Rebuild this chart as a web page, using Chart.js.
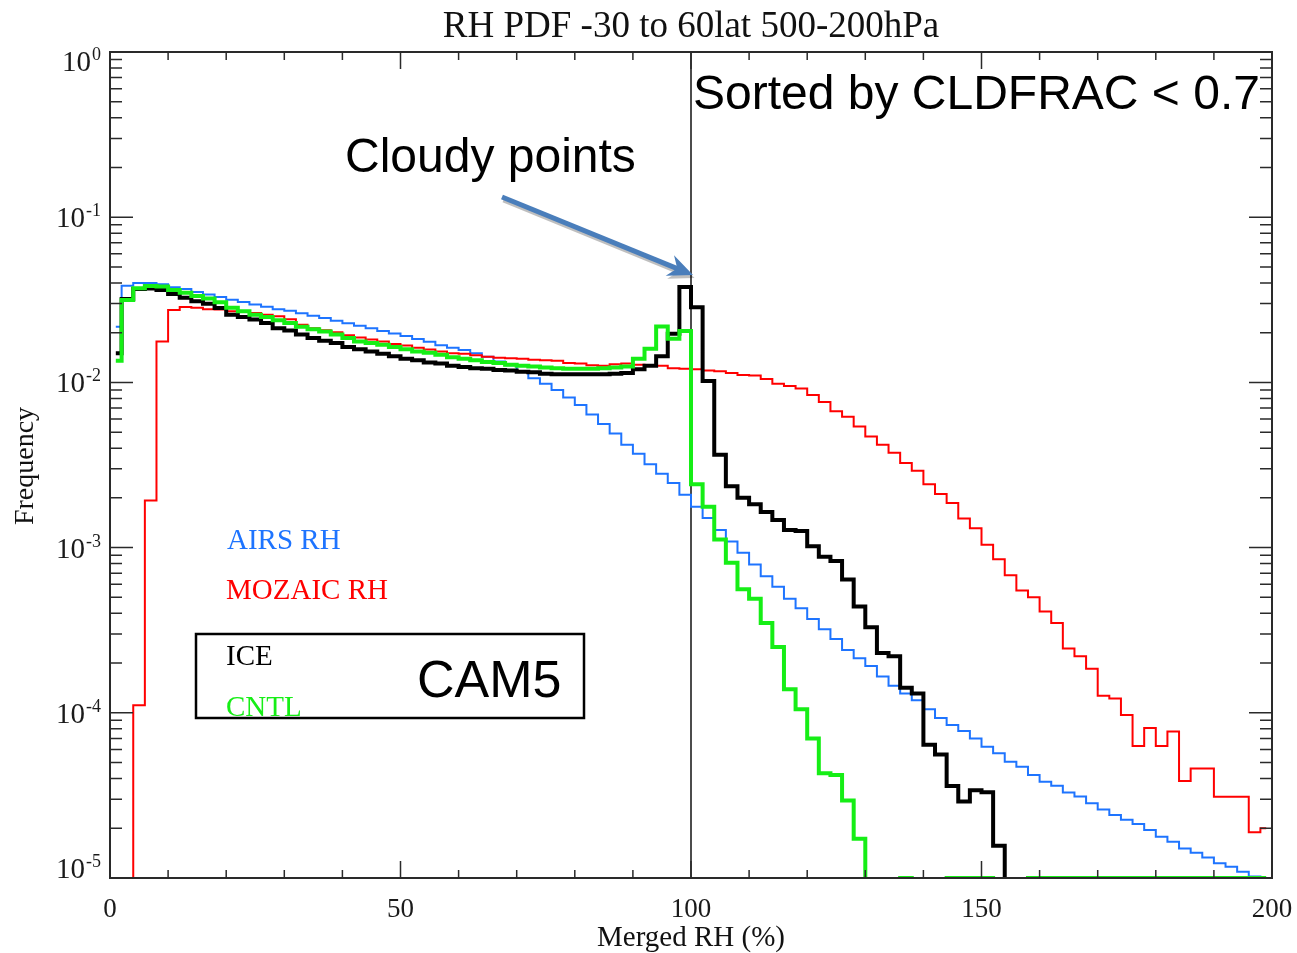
<!DOCTYPE html>
<html>
<head>
<meta charset="utf-8">
<title>RH PDF -30 to 60lat 500-200hPa</title>
<script src="https://cdn.jsdelivr.net/npm/chart.js@4/dist/chart.umd.min.js"></script>
<style>
    html, body { margin: 0; padding: 0; background: #fff; }
    #wrap { width: 1297px; height: 953px; position: relative; }
</style>
</head>
<body>
<div id="wrap"><canvas id="chart01"></canvas></div>
<script>
(function () {

    // bin centres of the RH histogram (2 % wide bins)
    const rhBins = [
        1, 3, 5, 7, 9, 11, 13, 15, 17, 19, 21, 23, 25, 27, 29, 31, 33, 35, 37, 39,
        41, 43, 45, 47, 49, 51, 53, 55, 57, 59, 61, 63, 65, 67, 69, 71, 73, 75, 77, 79,
        81, 83, 85, 87, 89, 91, 93, 95, 97, 99, 101, 103, 105, 107, 109, 111, 113, 115, 117, 119,
        121, 123, 125, 127, 129, 131, 133, 135, 137, 139, 141, 143, 145, 147, 149, 151, 153, 155, 157, 159,
        161, 163, 165, 167, 169, 171, 173, 175, 177, 179, 181, 183, 185, 187, 189, 191, 193, 195, 197, 199
    ];

    // empty bin: sits below the bottom of the log axis
    const E = 1e-9;

    const airsRH = [
        0.0217, 0.0385, 0.0400, 0.0400, 0.0393, 0.0377, 0.0368, 0.0353, 0.0340, 0.0329,
        0.0317, 0.0307, 0.0296, 0.0287, 0.0277, 0.0271, 0.0262, 0.0253, 0.0245, 0.0236,
        0.0228, 0.0220, 0.0213, 0.0205, 0.0198, 0.0191, 0.0183, 0.0176, 0.0168, 0.0162,
        0.0157, 0.0150, 0.0143, 0.0134, 0.0127, 0.0116, 0.0106, 0.0098, 0.0090, 0.0081,
        0.0073, 0.0064, 0.0056, 0.0049, 0.0042, 0.0037, 0.0032, 0.0028, 0.00246, 0.00209,
        0.00177, 0.00151, 0.00128, 0.00109, 0.00093, 0.00079, 0.00067, 0.00058, 0.00049, 0.00043,
        0.00037, 0.00032, 0.00028, 0.00024, 0.000214, 0.000192, 0.000166, 0.000146, 0.000131, 0.000119,
        0.000105, 0.000093, 0.0000845, 0.0000777, 0.000070, 0.0000624, 0.0000569, 0.0000506, 0.0000472, 0.000042,
        0.0000383, 0.0000362, 0.0000329, 0.0000311, 0.0000283, 0.000026, 0.0000241, 0.0000225, 0.0000212, 0.0000195,
        0.0000178, 0.0000166, 0.0000151, 0.0000142, 0.0000133, 0.0000123, 0.0000117, 0.0000109, 0.0000102, 0.0000100
    ];

    const mozaicRH = [
        0.00001, 0.00001, 0.000111, 0.00193, 0.0177, 0.0274, 0.0286, 0.0283, 0.0277, 0.0276,
        0.0270, 0.0270, 0.0263, 0.0257, 0.0251, 0.0241, 0.0223, 0.0213, 0.0207, 0.0201,
        0.0193, 0.0187, 0.0182, 0.0177, 0.0171, 0.0167, 0.0162, 0.0158, 0.0154, 0.0150,
        0.0149, 0.0146, 0.0143, 0.0141, 0.0140, 0.0139, 0.0137, 0.0136, 0.0135, 0.0131,
        0.0130, 0.0127, 0.0126, 0.0129, 0.0130, 0.0128, 0.0127, 0.0126, 0.0122, 0.0121,
        0.0120, 0.0118, 0.0117, 0.0114, 0.0111, 0.0110, 0.0105, 0.0098, 0.0095, 0.0092,
        0.0084, 0.0076, 0.0067, 0.0062, 0.0054, 0.0047, 0.0042, 0.00375, 0.00325, 0.00292,
        0.00242, 0.00211, 0.00186, 0.00150, 0.00131, 0.00104, 0.00085, 0.00068, 0.00055, 0.00050,
        0.00041, 0.00035, 0.000245, 0.00022, 0.000185, 0.000127, 0.000122, 0.000097, 0.000063, 0.000081,
        0.000063, 0.000077, 0.0000387, 0.000046, 0.000046, 0.000031, 0.000031, 0.000031, 0.0000189, 0.000020
    ];

    const iceRH = [
        0.0150, 0.0320, 0.0368, 0.0370, 0.0362, 0.0343, 0.0325, 0.0310, 0.0299, 0.0282,
        0.0257, 0.0249, 0.0240, 0.0229, 0.0213, 0.0206, 0.0195, 0.0186, 0.0179, 0.0173,
        0.0164, 0.0159, 0.0154, 0.0149, 0.0144, 0.0139, 0.0136, 0.0132, 0.0130, 0.0126,
        0.0124, 0.0122, 0.0121, 0.0119, 0.0118, 0.0116, 0.0115, 0.0113, 0.0112, 0.0112,
        0.0112, 0.0112, 0.0112, 0.0113, 0.0114, 0.0120, 0.0126, 0.0144, 0.0197, 0.0378,
        0.0285, 0.0102, 0.00365, 0.00235, 0.00200, 0.00183, 0.00164, 0.00147, 0.00128, 0.00126,
        0.00102, 0.00088, 0.00083, 0.00064, 0.00044, 0.00033, 0.00023, 0.00022, 0.000142, 0.000131,
        0.000064, 0.000056, 0.000036, 0.000029, 0.000034, 0.000033, 0.0000157, E, E, E,
        E, E, E, E, E, E, E, E, E, E,
        E, E, E, E, E, E, E, E, E, E
    ];

    const cntlRH = [
        0.0135, 0.0315, 0.0372, 0.0383, 0.0380, 0.0362, 0.0349, 0.0334, 0.0322, 0.0306,
        0.0283, 0.0270, 0.0257, 0.0249, 0.0238, 0.0229, 0.0217, 0.0210, 0.0203, 0.0195,
        0.0186, 0.0177, 0.0173, 0.0169, 0.0164, 0.0159, 0.0154, 0.0151, 0.0147, 0.0142,
        0.0139, 0.0136, 0.0133, 0.0131, 0.0128, 0.0126, 0.0125, 0.0123, 0.0122, 0.0121,
        0.0121, 0.0121, 0.0122, 0.0123, 0.0125, 0.0139, 0.0160, 0.0218, 0.0184, 0.0205,
        0.00242, 0.00177, 0.00112, 0.00081, 0.00056, 0.00049, 0.00035, 0.00025, 0.000139, 0.000105,
        0.000070, 0.000043, 0.000042, 0.0000295, 0.0000173, E, E, E, 0.00001, E,
        E, E, 0.00001, 0.00001, 0.00001, 0.00001, E, E, E, 0.00001,
        0.00001, 0.00001, 0.00001, 0.00001, 0.00001, 0.00001, 0.00001, 0.00001, 0.00001, 0.00001,
        0.00001, 0.00001, 0.00001, 0.00001, 0.00001, 0.00001, 0.00001, 0.00001, 0.00001, 0.00001
    ];

    const xTicks = [0, 50, 100, 150, 200];
    const xMinorStep = 10;
    const yTicks = [1, 0.1, 0.01, 0.001, 0.0001, 0.00001];
    const yExponents = ['0', '-1', '-2', '-3', '-4', '-5'];
    const cloudyRH = 100;

    const BLUE = '#1e74ff';
    const RED = '#ff0000';
    const GREEN = '#16ee16';
    const AXIS = '#2a2a2a';
    const SERIF = '"Liberation Serif", "Times New Roman", serif';
    const SANS = '"Liberation Sans", Arial, sans-serif';

    function histogram(label, values, color, width) {
        return {
            label: label,
            data: values.map((v, i) => ({x: rhBins[i], y: v})),
            borderColor: color,
            borderWidth: width,
            stepped: 'middle',
            pointRadius: 0,
            fill: false
        };
    }

    function text(ctx, str, x, y, size, family, color, align) {
        ctx.font = size + 'px ' + family;
        ctx.fillStyle = color;
        ctx.textAlign = align || 'left';
        ctx.textBaseline = 'alphabetic';
        ctx.fillText(str, x, y);
    }

    const decorations = {
        id: 'decorations',
        beforeDatasetsDraw(chart) {
            const {ctx, chartArea: a, scales: {x}} = chart;
            const px = x.getPixelForValue(cloudyRH);
            ctx.save();
            ctx.strokeStyle = '#111';
            ctx.lineWidth = 1.5;
            ctx.beginPath();
            ctx.moveTo(px, a.top);
            ctx.lineTo(px, a.bottom);
            ctx.stroke();
            ctx.restore();
        },
        afterDatasetsDraw(chart) {
            const {ctx, chartArea: a, scales: {x, y}} = chart;
            ctx.save();

            // frame
            ctx.strokeStyle = AXIS;
            ctx.lineWidth = 2;
            ctx.strokeRect(a.left, a.top, a.right - a.left, a.bottom - a.top);

            // x ticks, pointing inward on bottom and top
            ctx.lineWidth = 1.5;
            ctx.beginPath();
            for (let v = x.min; v <= x.max; v += xMinorStep) {
                const px = x.getPixelForValue(v);
                const len = xTicks.includes(v) ? 17 : 8;
                ctx.moveTo(px, a.bottom); ctx.lineTo(px, a.bottom - len);
                ctx.moveTo(px, a.top); ctx.lineTo(px, a.top + len);
            }
            // y ticks, inward on left and right
            yTicks.forEach(d => {
                const py = y.getPixelForValue(d);
                ctx.moveTo(a.left, py); ctx.lineTo(a.left + 23, py);
                ctx.moveTo(a.right, py); ctx.lineTo(a.right - 23, py);
                if (d < 1) {
                    for (let m = 2; m <= 9; m++) {
                        const pm = y.getPixelForValue(m * d);
                        ctx.moveTo(a.left, pm); ctx.lineTo(a.left + 12, pm);
                        ctx.moveTo(a.right, pm); ctx.lineTo(a.right - 12, pm);
                    }
                }
            });
            ctx.stroke();

            // tick labels
            xTicks.forEach(v => {
                text(ctx, String(v), x.getPixelForValue(v), 917, 27, SERIF, '#1a1a1a', 'center');
            });
            yTicks.forEach((d, i) => {
                const py = y.getPixelForValue(d);
                const base = Math.min(Math.max(py + 10, a.top + 19), a.bottom);
                ctx.font = '18px ' + SERIF;
                const ew = ctx.measureText(yExponents[i]).width;
                text(ctx, yExponents[i], 101, base - 11, 18, SERIF, '#1a1a1a', 'right');
                text(ctx, '10', 101 - ew - 1, base, 29, SERIF, '#1a1a1a', 'right');
            });

            // titles
            text(ctx, 'RH PDF -30 to 60lat 500-200hPa', (a.left + a.right) / 2, 37, 37, SERIF, '#111', 'center');
            text(ctx, 'Merged RH (%)', (a.left + a.right) / 2, 946, 29, SERIF, '#111', 'center');
            ctx.save();
            ctx.translate(33, 466);
            ctx.rotate(-Math.PI / 2);
            text(ctx, 'Frequency', 0, 0, 28, SERIF, '#111', 'center');
            ctx.restore();

            // series labels
            text(ctx, 'AIRS RH', 227, 549, 29, SERIF, BLUE);
            text(ctx, 'MOZAIC RH', 226, 599, 29, SERIF, RED);
            text(ctx, 'ICE', 226, 665, 29, SERIF, '#000');
            text(ctx, 'CNTL', 226, 716, 29, SERIF, GREEN);

            // CAM5 box
            ctx.strokeStyle = '#000';
            ctx.lineWidth = 2.5;
            ctx.strokeRect(196, 634, 388, 84);
            text(ctx, 'CAM5', 417, 697, 52, SANS, '#000');

            // annotations
            text(ctx, 'Sorted by CLDFRAC < 0.7', 693, 109, 48, SANS, '#000');
            text(ctx, 'Cloudy points', 345, 172, 48, SANS, '#000');

            // arrow to the cloudy peak
            const tip = {x: 693, y: 275}, tail = {x: 502, y: 197};
            const dx = tip.x - tail.x, dy = tip.y - tail.y;
            const L = Math.hypot(dx, dy), ux = dx / L, uy = dy / L;
            const nx = -uy, ny = ux;
            const drawArrow = (ox, oy, color) => {
                ctx.strokeStyle = color;
                ctx.fillStyle = color;
                ctx.lineWidth = 5;
                ctx.beginPath();
                ctx.moveTo(tail.x + ox, tail.y + oy);
                ctx.lineTo(tip.x - 15 * ux + ox, tip.y - 15 * uy + oy);
                ctx.stroke();
                ctx.beginPath();
                ctx.moveTo(tip.x + ox, tip.y + oy);
                ctx.lineTo(tip.x - 25 * ux + 11 * nx + ox, tip.y - 25 * uy + 11 * ny + oy);
                ctx.lineTo(tip.x - 17 * ux + ox, tip.y - 17 * uy + oy);
                ctx.lineTo(tip.x - 25 * ux - 11 * nx + ox, tip.y - 25 * uy - 11 * ny + oy);
                ctx.closePath();
                ctx.fill();
            };
            drawArrow(1.5, 3, 'rgba(0,0,0,0.25)');
            drawArrow(0, 0, '#4a7ebb');

            ctx.restore();
        }
    };

    new Chart(document.getElementById('chart01'), {
        type: 'line',
        data: {
            // first dataset is painted last, so CNTL ends up on top
            datasets: [
                histogram('CNTL', cntlRH, GREEN, 4),
                histogram('ICE', iceRH, '#000', 4),
                histogram('MOZAIC RH', mozaicRH, RED, 2),
                histogram('AIRS RH', airsRH, BLUE, 2)
            ]
        },
        options: {
            responsive: true,
            maintainAspectRatio: false,
            animation: false,
            layout: {
                padding: {left: 110, right: 25, top: 52, bottom: 75}
            },
            plugins: {
                legend: {display: false},
                tooltip: {enabled: false}
            },
            scales: {
                x: {type: 'linear', min: 0, max: 200, display: false},
                y: {type: 'logarithmic', min: 0.00001, max: 1, display: false}
            }
        },
        plugins: [decorations]
    });
})();
</script>
</body>
</html>
